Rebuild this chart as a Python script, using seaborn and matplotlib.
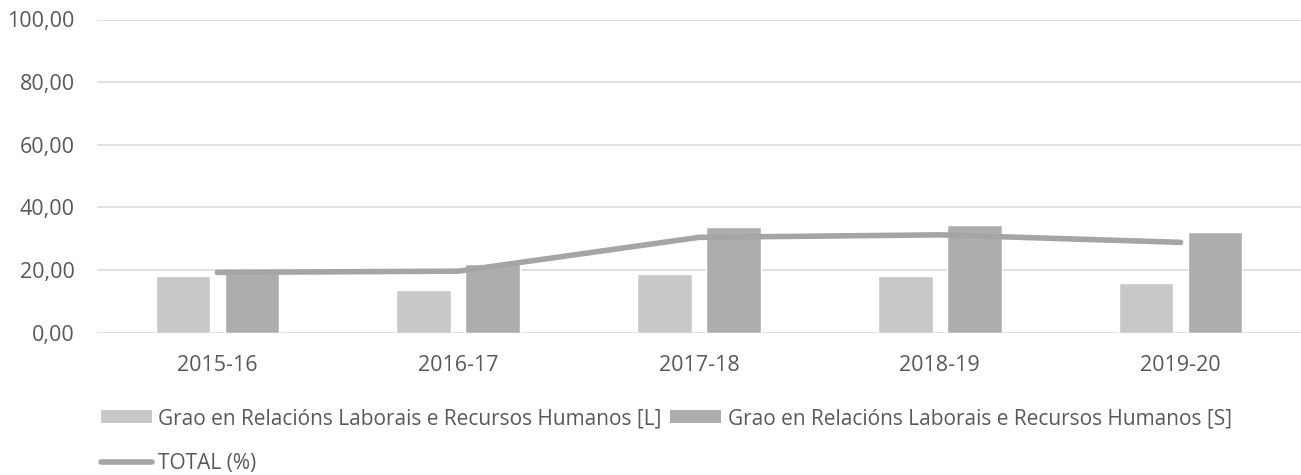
import numpy as np
import pandas as pd
import matplotlib
matplotlib.use("Agg")
import matplotlib.pyplot as plt
import seaborn as sns
from matplotlib.ticker import FuncFormatter
from matplotlib.patches import Patch
from matplotlib.lines import Line2D

years = ["2015-16", "2016-17", "2017-18", "2018-19", "2019-20"]
series_L = [18.2, 13.6, 18.6, 18.0, 15.7]
series_S = [19.0, 21.9, 33.8, 34.2, 32.2]
total_pct = [19.2, 19.6, 30.4, 31.2, 28.8]
label_L = "Grao en Relacións Laborais e Recursos Humanos [L]"
label_S = "Grao en Relacións Laborais e Recursos Humanos [S]"
label_T = "TOTAL (%)"
yticks = [0, 20, 40, 60, 80, 100]

sns.set_theme(style="white")
plt.rcParams['font.family'] = ['Open Sans', 'DejaVu Sans']

col_L = "#C8C8C8"
col_S = "#ADADAD"
col_T = "#A5A5A5"
txt = "#595959"

df = pd.DataFrame({
    "year": years * 2,
    "value": series_L + series_S,
    "serie": [label_L] * len(years) + [label_S] * len(years),
})

fig = plt.figure(figsize=(13.01, 4.75), dpi=100)
ax = fig.add_axes([97 / 1301, 1 - 332.5 / 475, (1301 - 97) / 1301, (332.5 - 19.5) / 475])

sns.barplot(data=df, x="year", y="value", hue="serie", order=years,
            hue_order=[label_L, label_S], palette=[col_L, col_S],
            width=0.573, gap=0.21, saturation=1, legend=False, ax=ax, zorder=2)
sns.pointplot(x=years, y=total_pct, order=years, color=col_T, markers="",
              linestyles="-", ax=ax, zorder=3)
for ln in ax.lines:
    ln.set_linewidth(4.0)
    ln.set_solid_capstyle("round")
    ln.set_solid_joinstyle("round")
    ln.set_zorder(3)

ax.set_xlim(-0.5, 4.5)
ax.set_ylim(0, 100)
ax.set_yticks(yticks)
ax.yaxis.set_major_formatter(FuncFormatter(lambda v, p: f"{v:.2f}".replace(".", ",")))
ax.grid(axis="y", color="#D9D9D9", linewidth=1.1, zorder=0)
ax.grid(axis="x", visible=False)
ax.set_axisbelow(True)
for s in ax.spines.values():
    s.set_visible(False)
ax.tick_params(axis="both", length=0, colors=txt, labelsize=15.5)
ax.tick_params(axis="y", pad=16)
ax.tick_params(axis="x", pad=16)
ax.set_xlabel("")
ax.set_ylabel("")

handles = [Patch(facecolor=col_L, edgecolor="none"),
           Line2D([0], [0], color=col_T, lw=4.0, solid_capstyle="round"),
           Patch(facecolor=col_S, edgecolor="none")]
labels = [label_L, label_T, label_S]
leg = fig.legend(handles, labels, ncol=2, loc="upper left",
                 bbox_to_anchor=(101 / 1301, 1 - 408 / 475),
                 frameon=False, fontsize=15, handlelength=2.45, handleheight=0.58,
                 handletextpad=0.29, columnspacing=0.43, labelspacing=1.14,
                 borderpad=0, borderaxespad=0)
for t in leg.get_texts():
    t.set_color(txt)

fig.savefig("out.png", dpi=100)
